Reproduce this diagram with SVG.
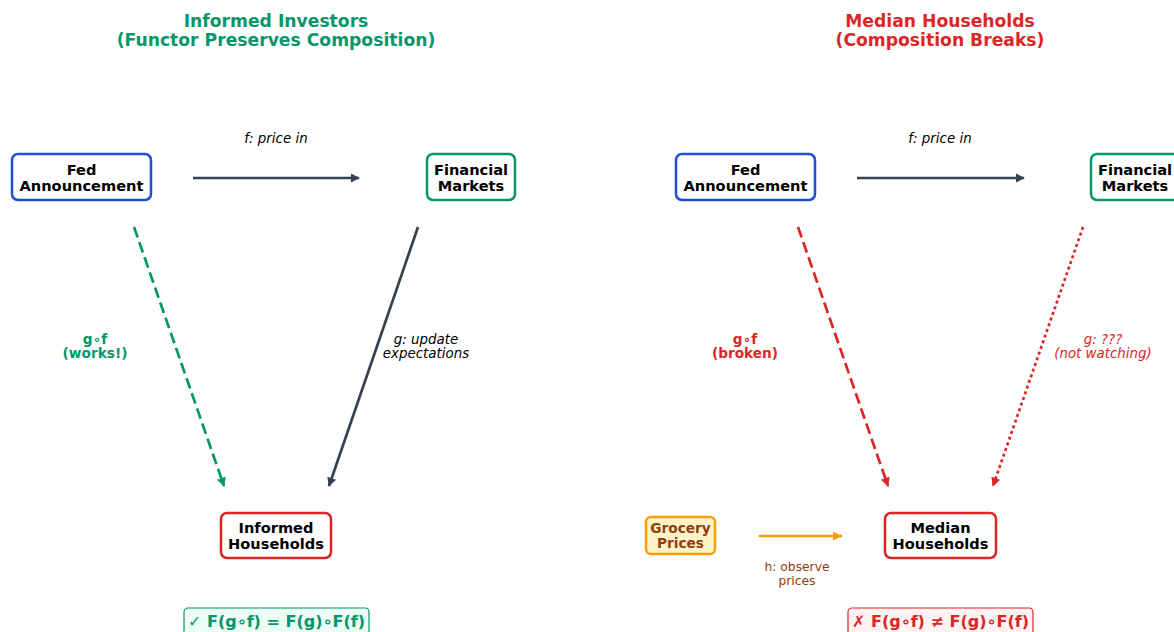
<svg xmlns="http://www.w3.org/2000/svg" width="1174" height="632" viewBox="0 0 1174 632">
<style>
text{font-family:"DejaVu Sans","Liberation Sans",sans-serif;text-anchor:middle}
.title{font-size:17.2px;font-weight:bold}
.node{font-size:14.6px;font-weight:bold;fill:#000}
.box{fill:#fff;stroke-width:2.5}
.lbl{font-size:13.4px;font-style:italic}
.blbl{font-size:13.7px;font-weight:bold}
.edge{fill:none;stroke-width:2.7}
</style>
<defs>
<marker id="ad" viewBox="0 0 10 10" refX="9" refY="5" markerWidth="3.4" markerHeight="3.4" orient="auto"><path d="M0,0L10,5L0,10z" fill="#374151"/></marker>
<marker id="ag" viewBox="0 0 10 10" refX="9" refY="5" markerWidth="3.4" markerHeight="3.4" orient="auto"><path d="M0,0L10,5L0,10z" fill="#059669"/></marker>
<marker id="ar" viewBox="0 0 10 10" refX="9" refY="5" markerWidth="3.4" markerHeight="3.4" orient="auto"><path d="M0,0L10,5L0,10z" fill="#dc2626"/></marker>
<marker id="ao" viewBox="0 0 10 10" refX="9" refY="5" markerWidth="3.4" markerHeight="3.4" orient="auto"><path d="M0,0L10,5L0,10z" fill="#f59e0b"/></marker>
</defs>
<rect width="1174" height="632" fill="#fff"/>
<g id="titles">
<text class="title" x="276" y="27" fill="#059669">Informed Investors</text>
<text class="title" x="276" y="46" fill="#059669">(Functor Preserves Composition)</text>
<text class="title" x="940" y="27" fill="#dc2626">Median Households</text>
<text class="title" x="940" y="46" fill="#dc2626">(Composition Breaks)</text>
</g>
<g id="connectors">
<line class="edge" x1="193" y1="178" x2="359" y2="178" stroke="#374151" marker-end="url(#ad)"/>
<line class="edge" x1="134" y1="227" x2="224" y2="486" stroke="#059669" stroke-width="3.2" stroke-dasharray="11,5" marker-end="url(#ag)"/>
<line class="edge" x1="418" y1="227" x2="329" y2="486" stroke="#374151" marker-end="url(#ad)"/>
<line class="edge" x1="857" y1="178" x2="1024" y2="178" stroke="#374151" marker-end="url(#ad)"/>
<line class="edge" x1="798" y1="227" x2="888" y2="486" stroke="#dc2626" stroke-width="3.2" stroke-dasharray="11,5" marker-end="url(#ar)"/>
<line class="edge" x1="1083" y1="227" x2="993" y2="486" stroke="#dc2626" stroke-dasharray="3,3" marker-end="url(#ar)"/>
<line class="edge" x1="760" y1="536" x2="841" y2="536" stroke="#f59e0b" stroke-width="3.2" stroke-linecap="round" marker-end="url(#ao)"/>
</g>
<g id="edge-labels">
<text class="lbl" x="276" y="143" fill="#000">f: price in</text>
<text class="lbl" x="940" y="143" fill="#000">f: price in</text>
<text class="blbl" x="95" y="344" fill="#059669">g∘f</text>
<text class="blbl" x="95" y="358" fill="#059669">(works!)</text>
<text class="lbl" x="426" y="344" fill="#000">g: update</text>
<text class="lbl" x="426" y="358" fill="#000">expectations</text>
<text class="blbl" x="745" y="344" fill="#dc2626">g∘f</text>
<text class="blbl" x="745" y="358" fill="#dc2626">(broken)</text>
<text class="lbl" x="1103" y="344" fill="#dc2626">g: ???</text>
<text class="lbl" x="1103" y="358" fill="#dc2626">(not watching)</text>
<text x="797" y="571" font-size="12.3" fill="#92400e">h: observe</text>
<text x="797" y="585" font-size="12.3" fill="#92400e">prices</text>
</g>
<g id="fed-left">
<rect class="box" x="12" y="154" width="139" height="46" rx="6" stroke="#1d4ed8"/>
<text class="node" x="81.5" y="175">Fed</text>
<text class="node" x="81.5" y="191">Announcement</text>
</g>
<g id="markets-left">
<rect class="box" x="427" y="154" width="88" height="46" rx="6" stroke="#059669"/>
<text class="node" x="471" y="175">Financial</text>
<text class="node" x="471" y="191">Markets</text>
</g>
<g id="households-left">
<rect class="box" x="221" y="513" width="110" height="45" rx="6" stroke="#dc2626"/>
<text class="node" x="276" y="533">Informed</text>
<text class="node" x="276" y="549">Households</text>
</g>
<g id="fed-right">
<rect class="box" x="676" y="154" width="139" height="46" rx="6" stroke="#1d4ed8"/>
<text class="node" x="745.5" y="175">Fed</text>
<text class="node" x="745.5" y="191">Announcement</text>
</g>
<g id="markets-right">
<rect class="box" x="1091" y="154" width="88" height="46" rx="6" stroke="#059669"/>
<text class="node" x="1135" y="175">Financial</text>
<text class="node" x="1135" y="191">Markets</text>
</g>
<g id="households-right">
<rect class="box" x="885" y="513" width="111" height="45" rx="6" stroke="#dc2626"/>
<text class="node" x="940.5" y="533">Median</text>
<text class="node" x="940.5" y="549">Households</text>
</g>
<g id="grocery">
<rect x="646" y="517" width="69" height="37" rx="5" fill="#fef3c7" stroke="#f59e0b" stroke-width="2.5"/>
<text x="680.5" y="533" font-size="13.7" font-weight="bold" fill="#92400e">Grocery</text>
<text x="680.5" y="548" font-size="13.7" font-weight="bold" fill="#92400e">Prices</text>
</g>
<g id="law-left">
<rect x="184" y="608" width="185" height="28" rx="4" fill="#ecfdf5" stroke="#059669" stroke-width="1.2"/>
<text x="276.5" y="627" font-size="16" font-weight="bold" fill="#059669">✓ F(g∘f) = F(g)∘F(f)</text>
</g>
<g id="law-right">
<rect x="848" y="608" width="185" height="28" rx="4" fill="#fef2f2" stroke="#dc2626" stroke-width="1.2"/>
<text x="940.5" y="627" font-size="16" font-weight="bold" fill="#dc2626">✗ F(g∘f) ≠ F(g)∘F(f)</text>
</g>
</svg>
